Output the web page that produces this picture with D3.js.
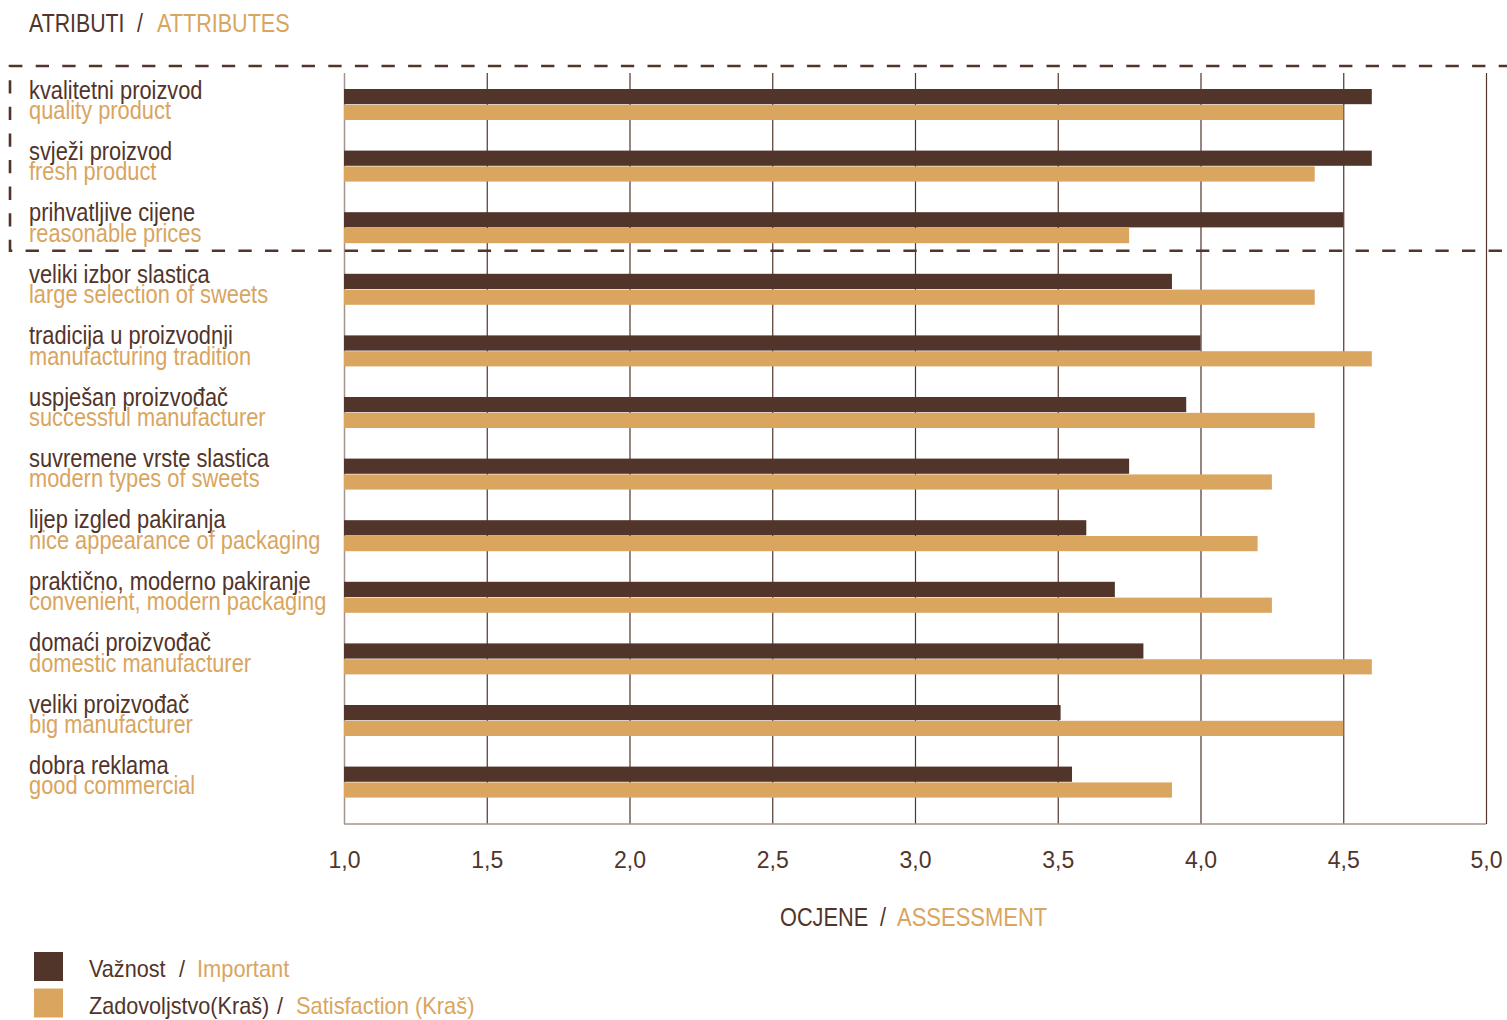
<!DOCTYPE html>
<html>
<head>
<meta charset="utf-8">
<title>Atributi / Attributes</title>
<style>
  body { margin: 0; background: #fff; }
  svg { display: block; }
  text { font-family: "Liberation Sans", Arial, sans-serif; }
</style>
</head>
<body>
<script src="https://cdn.jsdelivr.net/npm/d3@7"></script>
<script>
// attribute names (Croatian / English)
const attrHr = ["kvalitetni proizvod", "svježi proizvod", "prihvatljive cijene", "veliki izbor slastica",
  "tradicija u proizvodnji", "uspješan proizvođač", "suvremene vrste slastica", "lijep izgled pakiranja",
  "praktično, moderno pakiranje", "domaći proizvođač", "veliki proizvođač", "dobra reklama"];
const attrEn = ["quality product", "fresh product", "reasonable prices", "large selection of sweets",
  "manufacturing tradition", "successful manufacturer", "modern types of sweets", "nice appearance of packaging",
  "convenient, modern packaging", "domestic manufacturer", "big manufacturer", "good commercial"];

// scores
const importance   = [4.6, 4.6, 4.5, 3.9, 4.0, 3.95, 3.75, 3.6, 3.7, 3.8, 3.51, 3.55];
const satisfaction = [4.5, 4.4, 3.75, 4.4, 4.6, 4.4, 4.25, 4.2, 4.25, 4.6, 4.5, 3.9];

const tickValues = [1, 1.5, 2, 2.5, 3, 3.5, 4, 4.5, 5];

const DARK = "#51342a", LIGHT = "#d9a55f";
const W = 1507, H = 1020;

const svg = d3.select("body").append("svg").attr("width", W).attr("height", H);

const x = d3.scaleLinear().domain([1, 5]).range([344, 1486]);
const y = d3.scaleBand().domain(attrHr).range([76, 76 + 12 * 61.6]);
const ySub = d3.scaleBand().domain(["imp", "sat"]).range([13, 44]).paddingInner(0.04);

const plotTop = 73, plotBottom = 824;

// condensed text helper
function label(g, txt, px, py, size, sx, color) {
  return g.append("text")
    .attr("transform", `translate(${px},${py}) scale(${sx},1)`)
    .attr("font-size", size)
    .attr("fill", color)
    .text(txt);
}

// gridlines + tick labels
const fmt = d3.formatLocale({ decimal: ",", thousands: ".", grouping: [3], currency: ["", ""] }).format(".1f");
const gx = svg.append("g")
  .attr("transform", `translate(0,${plotBottom})`)
  .call(d3.axisBottom(x).tickValues(tickValues).tickSize(-(plotBottom - plotTop)).tickFormat(fmt));
gx.select(".domain").remove();
gx.selectAll(".tick line").attr("stroke", DARK).attr("stroke-width", 1.2);
gx.selectAll(".tick text")
  .attr("y", 44).attr("dy", 0)
  .attr("font-size", 23)
  .attr("font-family", "'Liberation Sans', Arial, sans-serif")
  .attr("fill", DARK);
gx.selectAll(".tick").filter(d => d === 1).select("line").attr("stroke", "#a5948e").attr("stroke-width", 1.5);

// bottom axis line
svg.append("line")
  .attr("x1", x(1)).attr("x2", x(5))
  .attr("y1", plotBottom).attr("y2", plotBottom)
  .attr("stroke", "#a5948e").attr("stroke-width", 1.5);

// bars
const rows = svg.append("g").selectAll("g")
  .data(attrHr.map((c, i) => ({ c, i })))
  .join("g")
  .attr("transform", d => `translate(0,${y(d.c)})`);

rows.append("rect")
  .attr("x", x(1))
  .attr("y", ySub("imp"))
  .attr("height", ySub.bandwidth())
  .attr("width", d => x(importance[d.i]) - x(1))
  .attr("fill", DARK);

rows.append("rect")
  .attr("x", x(1))
  .attr("y", ySub("sat"))
  .attr("height", ySub.bandwidth())
  .attr("width", d => x(satisfaction[d.i]) - x(1))
  .attr("fill", LIGHT);

// row labels (two lines, Croatian above English)
rows.each(function (d) {
  const g = d3.select(this);
  label(g, attrHr[d.i], 29, 22.5 - d.i * 0.2, 26, 0.84, DARK);
  label(g, attrEn[d.i], 29, 43 - d.i * 0.2, 26, 0.84, LIGHT);
});

// dashed frame around the top three attributes
const boxTop = y(attrHr[0]) - 10;
const boxBottom = y(attrHr[2]) + y.step() - 10;
svg.append("path")
  .attr("d", `M${W + 5},${boxTop}H10V${boxBottom}H${W + 5}`)
  .attr("fill", "none")
  .attr("stroke", DARK)
  .attr("stroke-width", 2.6)
  .attr("stroke-dasharray", "13.3,13.3");

// title
label(svg, "ATRIBUTI", 29, 32, 26, 0.82, DARK);
label(svg, "/", 137, 32, 26, 0.82, DARK);
label(svg, "ATTRIBUTES", 157, 32, 26, 0.83, LIGHT);

// axis title
label(svg, "OCJENE", 780, 926, 25, 0.87, DARK);
label(svg, "/", 880, 926, 25, 0.87, DARK);
label(svg, "ASSESSMENT", 897, 926, 25, 0.88, LIGHT);

// legend
const legend = [
  { hr: "Važnost", en: "Important", color: DARK, slash: 179, enX: 197 },
  { hr: "Zadovoljstvo(Kraš)", en: "Satisfaction (Kraš)", color: LIGHT, slash: 277, enX: 296 }
];
legend.forEach((l, i) => {
  const ly = 952 + i * 36.5;
  svg.append("rect").attr("x", 34).attr("y", ly).attr("width", 29).attr("height", 29).attr("fill", l.color);
  label(svg, l.hr, 89, ly + 25, 23, 0.94, DARK);
  label(svg, "/", l.slash, ly + 25, 23, 0.94, DARK);
  label(svg, l.en, l.enX, ly + 25, 23, 0.95, LIGHT);
});
</script>
</body>
</html>
